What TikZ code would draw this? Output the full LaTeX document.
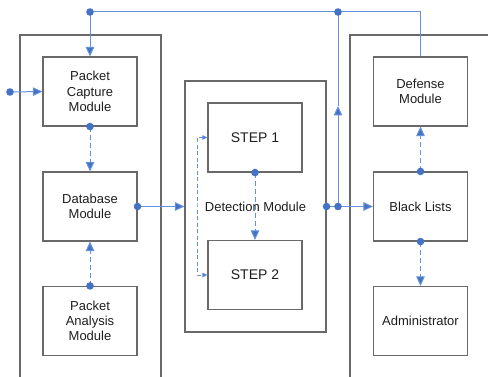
\documentclass[tikz,border=0pt]{standalone}
\usepackage{fontspec}
\setmainfont{Liberation Sans}
\usetikzlibrary{arrows.meta}
\definecolor{lineblue}{RGB}{100,145,220}
\definecolor{dotblue}{RGB}{68,114,196}
\definecolor{boxgray}{RGB}{105,105,105}
\definecolor{textgray}{RGB}{30,30,30}
\begin{document}
\begin{tikzpicture}[x=1pt,y=-1pt,
  modbox/.style={draw=boxgray,line width=1.1pt,minimum width=94pt,minimum height=69pt,inner sep=0pt,align=center,text=textgray,font=\fontsize{13}{15.3}\selectfont},
  stepbox/.style={modbox,font=\fontsize{14}{16}\selectfont},
  frame/.style={draw=boxgray,line width=1.1pt},
  conn/.style={draw=lineblue,line width=1pt},
  dconn/.style={conn,dash pattern=on 5pt off 3pt},
  tip/.style={-{Triangle[length=9.5pt,width=8.5pt,fill=dotblue]}},
  smalltip/.style={{Triangle[length=5pt,width=4.5pt,fill=dotblue]}-{Triangle[length=5pt,width=4.5pt,fill=dotblue]}},
  dot/.style={fill=dotblue,draw=none}]
\useasboundingbox (0,0) rectangle (488,377);
% frames
\draw[frame] (20,378) -- (20,35) -- (161,35) -- (161,378);
\draw[frame] (350,378) -- (350,35) -- (489,35);
\node[frame,minimum width=141pt,minimum height=251pt,inner sep=0pt,text=textgray,font=\fontsize{13}{15.3}\selectfont] (DM) at (255.5,206.5) {Detection Module};
% boxes
\node[modbox] (PC) at (90,91.5) {Packet\\Capture\\Module};
\node[modbox] (DB) at (90,206.5) {Database\\Module};
\node[modbox] (PA) at (90,321) {Packet\\Analysis\\Module};
\node[stepbox] (S1) at (255,137.5) {STEP 1};
\node[stepbox] (S2) at (255,275) {STEP 2};
\node[modbox] (DF) at (420.5,91.5) {Defense\\Module};
\node[modbox] (BL) at (420.5,206.5) {Black Lists};
\node[modbox] (AD) at (420.5,321) {Administrator};
% coordinates
\coordinate (in) at (10,92);
\coordinate (t1) at (90,12);
\coordinate (t2) at (338,12);
\coordinate (j) at (338,206.5);
\coordinate (m) at (338,106);
\coordinate (b) at (197,206.5);
% solid connectors
\draw[conn,tip] (in) -- (PC.west);
\draw[conn] (DF.north) |- (t1);
\draw[conn,tip] (t1) -- (PC.north);
\draw[conn,tip] (j) -- (m);
\draw[conn] (m) -- (t2);
\draw[conn,tip] (DB.east) -- (DM.west);
\draw[conn,tip] (DM.east) -- (BL.west);
% dashed connectors
\draw[dconn,tip] (PC.south) -- (DB.north);
\draw[dconn,tip] (PA.north) -- (DB.south);
\draw[dconn,tip] (S1.south) -- (S2.north);
\draw[dconn,tip] (BL.south) -- (AD.north);
\draw[dconn,tip] (BL.north) -- (DF.south);
\draw[conn,dash pattern=on 4pt off 2.5pt,line width=0.8pt,smalltip] (S1.west) -| (b) |- (S2.west);
% dots
\foreach \p in {in,t1,t2,j,PC.south,PA.north,S1.south,BL.south,BL.north,DB.east,DM.east}
  \fill[dot] (\p) circle (3.8pt);
\end{tikzpicture}
\end{document}
